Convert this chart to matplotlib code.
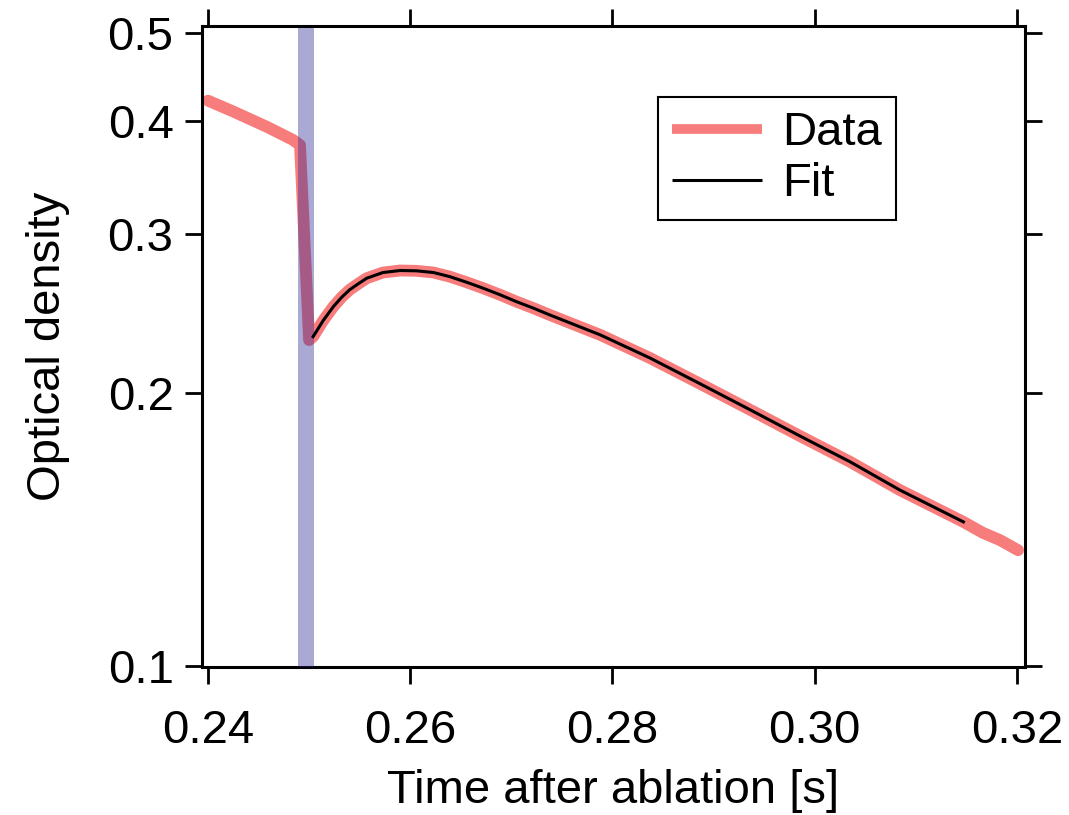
import matplotlib
matplotlib.use("Agg")
import matplotlib.pyplot as plt
from matplotlib.ticker import FixedLocator, NullLocator, FixedFormatter

plt.rcParams['font.family'] = ['Liberation Sans', 'DejaVu Sans']

# ---- data ----
data_t = [0.2400, 0.2425, 0.2458, 0.2484, 0.2491, 0.2500, 0.2504,
          0.2514, 0.2524, 0.2532, 0.2540, 0.2549, 0.2557, 0.2573, 0.2590,
          0.2606, 0.2623, 0.2639, 0.2656, 0.2672, 0.2689, 0.2705, 0.2722,
          0.2738, 0.2788, 0.2837, 0.2887, 0.2936, 0.2985, 0.3035, 0.3084,
          0.3147, 0.3166, 0.3183, 0.3201]
data_od = [0.421, 0.4095, 0.394, 0.381, 0.376, 0.229, 0.231,
           0.2407, 0.2493, 0.2552, 0.2602, 0.2644, 0.2680, 0.2719, 0.2733,
           0.2731, 0.2719, 0.2691, 0.2652, 0.2613, 0.2569, 0.2525, 0.2483,
           0.2441, 0.2320, 0.2188, 0.2048, 0.1918, 0.1795, 0.1680, 0.1564,
           0.1442, 0.1403, 0.1377, 0.1342]

fit_t = [0.2504, 0.2514, 0.2524, 0.2532, 0.2540, 0.2549, 0.2557, 0.2573,
         0.2590, 0.2606, 0.2623, 0.2639, 0.2656, 0.2672, 0.2689, 0.2705,
         0.2722, 0.2738, 0.2788, 0.2837, 0.2887, 0.2936, 0.2985, 0.3035,
         0.3084, 0.3147]
fit_od = [0.2310, 0.2407, 0.2493, 0.2552, 0.2602, 0.2644, 0.2680, 0.2719,
          0.2733, 0.2731, 0.2719, 0.2691, 0.2652, 0.2613, 0.2569, 0.2525,
          0.2483, 0.2441, 0.2320, 0.2188, 0.2048, 0.1918, 0.1795, 0.1680,
          0.1564, 0.1442]

band_start, band_end = 0.2489, 0.2505
band_top = 0.506

x_ticks = [0.24, 0.26, 0.28, 0.30, 0.32]
x_labels = ['0.24', '0.26', '0.28', '0.30', '0.32']
y_ticks = [0.1, 0.2, 0.3, 0.4, 0.5]
y_labels = ['0.1', '0.2', '0.3', '0.4', '0.5']

FS = 34

fig = plt.figure(figsize=(10.69, 8.15), dpi=100)
ax = fig.add_axes([202/1069, 1-667/815, (1025-202)/1069, (667-26)/815])

ax.set_yscale('log')
ax.set_xlim(0.23941, 0.32079)
ax.set_ylim(0.0997, 0.509)

ax.plot(data_t, data_od, color='#f77c7c', lw=8.5, solid_capstyle='round',
        solid_joinstyle='round', label='Data', zorder=2)
ax.fill_betweenx([0.0997, band_top], band_start, band_end,
                 color='#2a2a94', alpha=0.4, lw=0, zorder=3)
ax.plot(fit_t, fit_od, color='black', lw=2.2, label='Fit', zorder=4,
        solid_joinstyle='round')

ax.xaxis.set_major_locator(FixedLocator(x_ticks))
ax.xaxis.set_major_formatter(FixedFormatter(x_labels))
ax.yaxis.set_major_locator(FixedLocator(y_ticks))
ax.yaxis.set_major_formatter(FixedFormatter(y_labels))
ax.xaxis.set_minor_locator(NullLocator())
ax.yaxis.set_minor_locator(NullLocator())

ax.tick_params(axis='both', which='major', direction='out', length=12.5, width=2,
               labelsize=FS, top=True, right=True, color='black')
ax.tick_params(axis='x', pad=18)
ax.tick_params(axis='y', pad=8)
for s in ax.spines.values():
    s.set_linewidth(2.2)

ax.set_xlabel('Time after ablation [s]', fontsize=FS, labelpad=11)
ax.set_ylabel('Optical density', fontsize=FS, labelpad=27)

leg = ax.legend(loc='upper left', bbox_to_anchor=(658/1069, 1-97/815),
                bbox_transform=fig.transFigure, fontsize=FS, frameon=True,
                fancybox=False, shadow=False, handlelength=1.9,
                handletextpad=0.42, labelspacing=0.15, borderpad=0.3,
                borderaxespad=0)
leg.get_frame().set_edgecolor('black')
leg.get_frame().set_linewidth(1.5)
leg.get_frame().set_alpha(1)
for h in leg.get_lines():
    h.set_solid_capstyle('butt')
leg.get_lines()[0].set_linewidth(7)

fig.savefig('out.png', dpi=100)
